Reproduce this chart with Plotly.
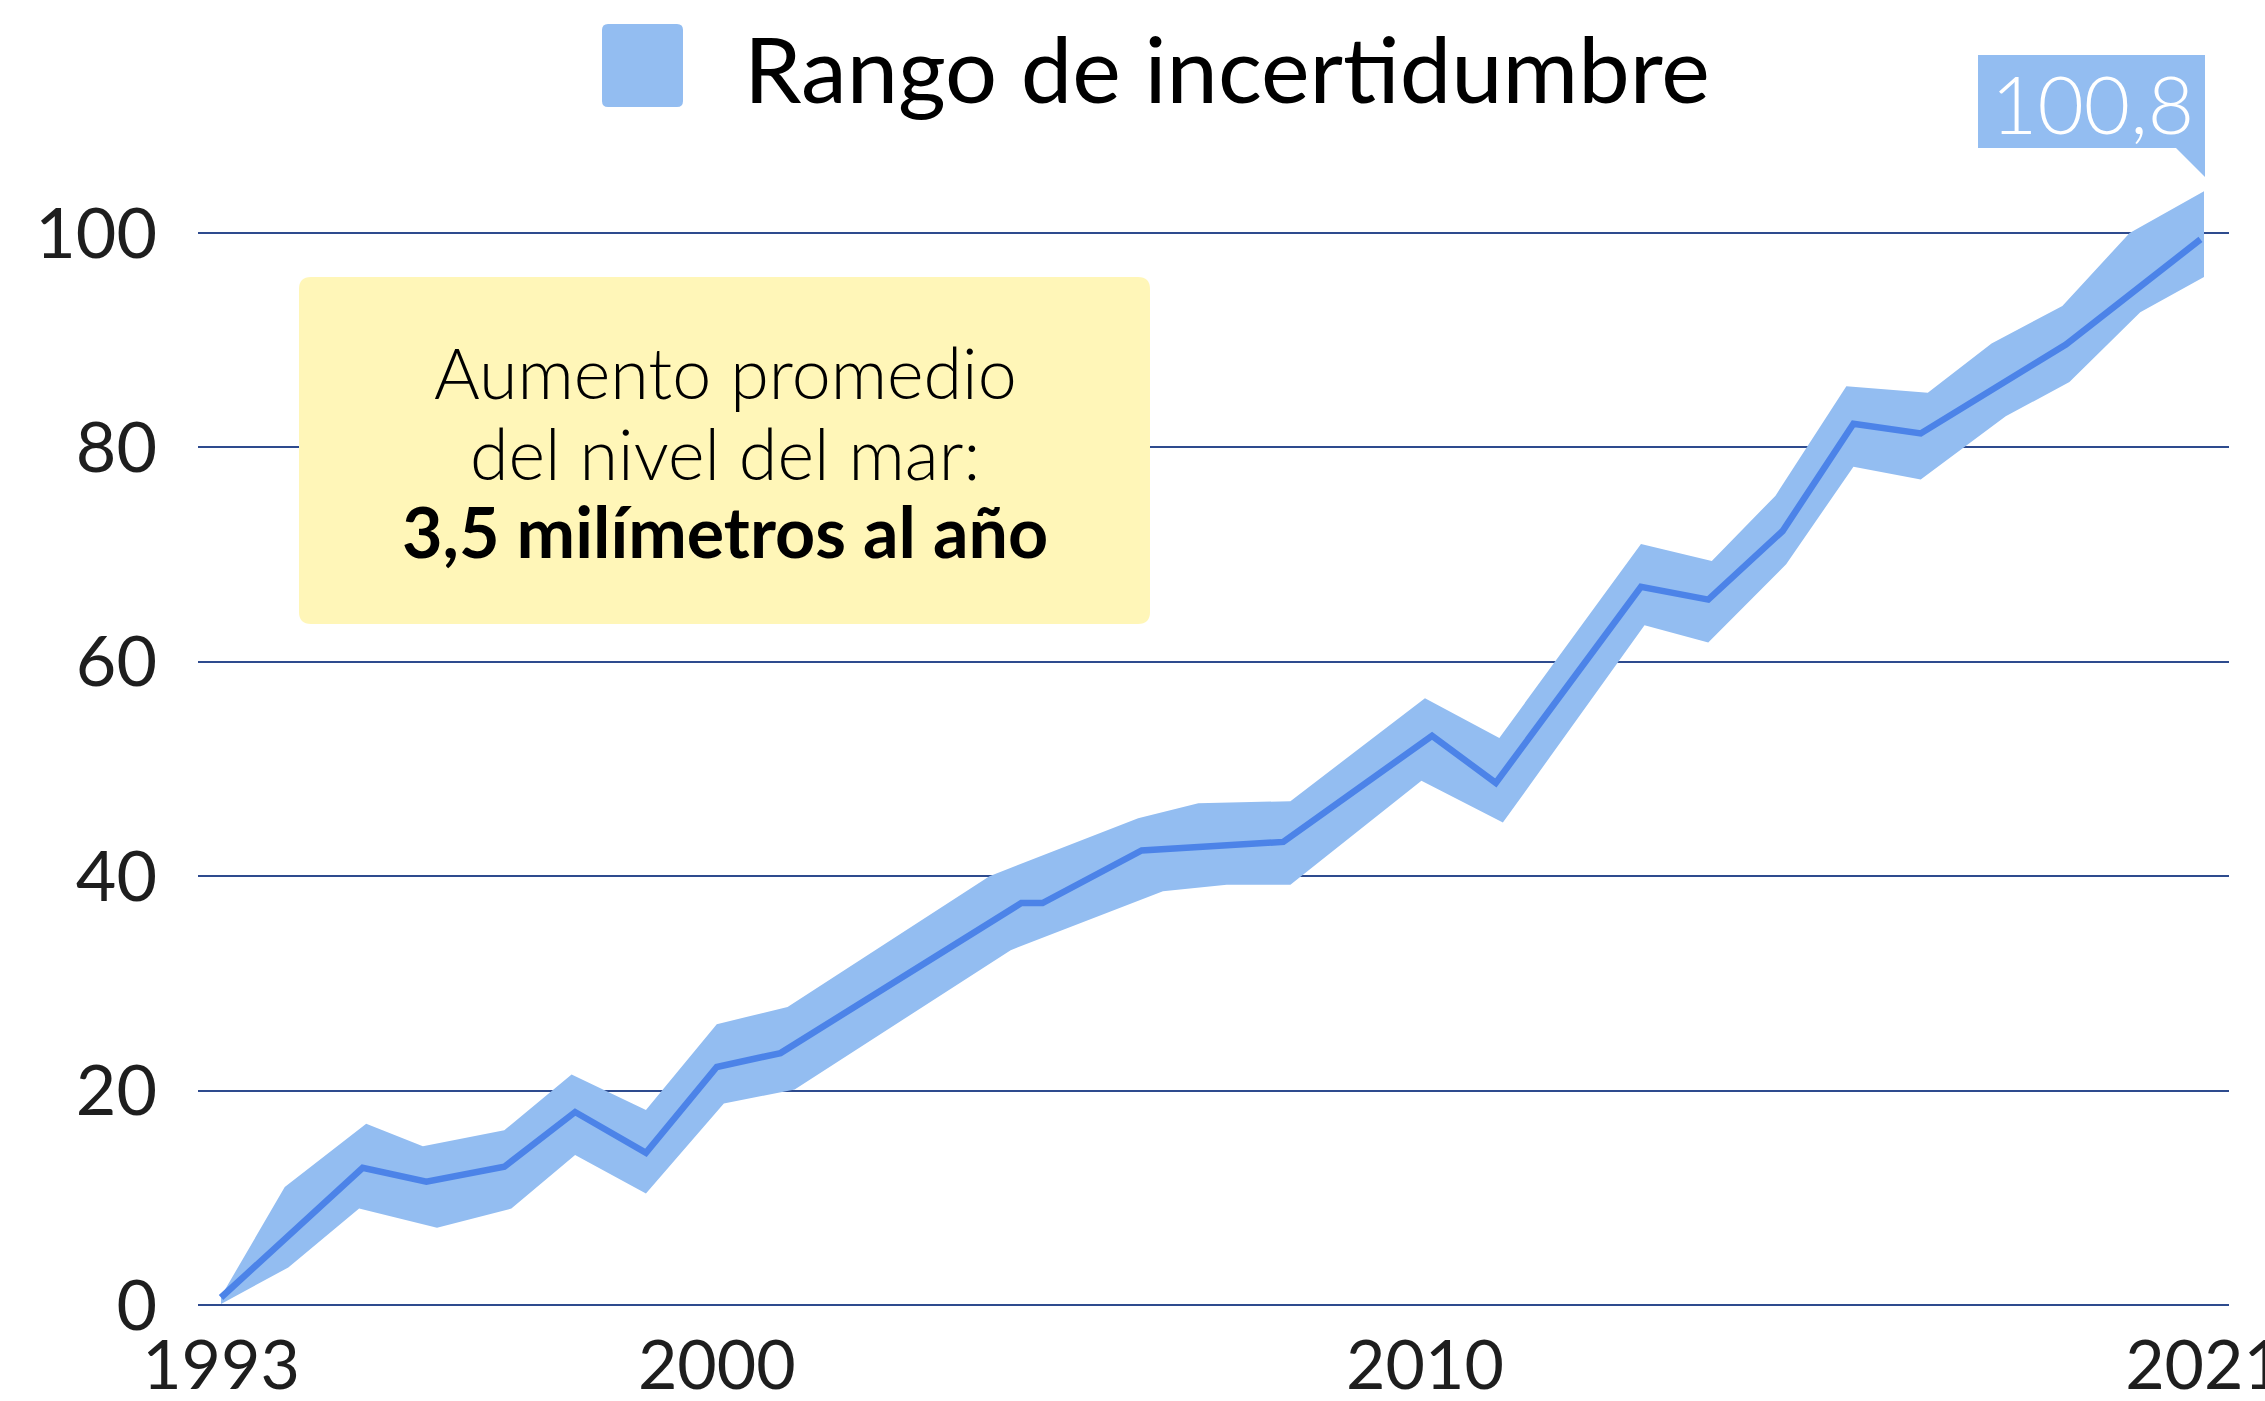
import plotly.graph_objects as go

# ---------------- data ----------------
line_years = [1993.0, 1995.0, 1995.9, 1997.0, 1998.0, 1999.0, 2000.0, 2000.9,
              2004.3, 2004.6, 2006.0, 2008.0, 2010.1, 2011.0, 2013.05, 2014.0,
              2015.05, 2016.05, 2017.0, 2019.05, 2020.95]
line_mm = [0.7, 12.8, 11.5, 12.9, 18.0, 14.2, 22.2, 23.5,
           37.5, 37.5, 42.4, 43.2, 53.1, 48.7, 67.0, 65.8,
           72.2, 82.2, 81.3, 89.6, 99.4]

upper_years = [1993.0, 1993.9, 1995.05, 1995.85, 1997.0, 1997.95, 1999.0, 2000.0,
               2001.0, 2003.85, 2005.95, 2006.8, 2008.1, 2010.0, 2011.05, 2013.05,
               2014.05, 2014.95, 2015.95, 2017.1, 2018.0, 2019.0, 2019.95, 2021.0]
upper_mm = [0.8, 11.0, 16.9, 14.8, 16.3, 21.5, 18.2, 26.2,
            27.8, 40.0, 45.4, 46.8, 47.0, 56.6, 52.9, 71.0,
            69.4, 75.5, 85.7, 85.1, 89.7, 93.2, 100.0, 103.9]

lower_years = [1993.0, 1993.95, 1994.95, 1996.05, 1997.1, 1998.0, 1999.0, 2000.1,
               2001.1, 2004.15, 2006.3, 2007.2, 2008.1, 2009.95, 2011.1, 2013.1,
               2014.0, 2015.1, 2016.05, 2017.0, 2018.2, 2019.1, 2020.1, 2021.0]
lower_mm = [0.1, 3.5, 9.0, 7.2, 9.0, 14.0, 10.4, 18.8,
            20.1, 33.1, 38.6, 39.2, 39.2, 48.9, 45.0, 63.4,
            61.8, 69.1, 78.2, 77.0, 82.9, 86.1, 92.6, 95.9]

x_tick_vals = [1993, 2000, 2010, 2021]
x_tick_text = ["1993", "2000", "2010", "2021"]
y_tick_vals = [0, 20, 40, 60, 80, 100]
y_tick_text = ["0", "20", "40", "60", "80", "100"]

legend_label = "Rango de incertidumbre"
last_value_label = "100,8"
note_lines = ["Aumento promedio", "del nivel del mar:", "3,5 milímetros al año"]

# ---------------- styling ----------------
BAND = "#93BDF1"
LINE = "#4C83E8"
GRID = "#2E4B8E"
YELLOW = "#FFF6B8"
TICK_FONT = "Lato, 'Open Sans', sans-serif"
TEXT_FONT = "Lato, 'Noto Sans', sans-serif"

FIG_W, FIG_H = 2265, 1401
L, R, T, B = 198, 2229, 130, 1330
PW, PH = R - L, B - T


def pxx(px):
    return (px - L) / PW


def pxy(py):
    return (B - py) / PH


def rounded_rect(x0, y0, x1, y1, r):
    # pixel coords -> paper path with rounded corners
    a0, a1 = pxx(x0), pxx(x1)
    b0, b1 = pxy(y1), pxy(y0)  # bottom, top in paper
    rx, ry = r / PW, r / PH
    return (f"M{a0+rx},{b0} L{a1-rx},{b0} Q{a1},{b0} {a1},{b0+ry} "
            f"L{a1},{b1-ry} Q{a1},{b1} {a1-rx},{b1} L{a0+rx},{b1} "
            f"Q{a0},{b1} {a0},{b1-ry} L{a0},{b0+ry} Q{a0},{b0} {a0+rx},{b0} Z")


fig = go.Figure()

band_x = upper_years + lower_years[::-1]
band_y = upper_mm + lower_mm[::-1]
fig.add_trace(go.Scatter(x=band_x, y=band_y, mode="lines", fill="toself",
                         fillcolor=BAND, line=dict(width=0, color=BAND),
                         hoverinfo="skip", showlegend=False,
                         name=legend_label))
fig.add_trace(go.Scatter(x=line_years, y=line_mm, mode="lines",
                         line=dict(color=LINE, width=6.5),
                         showlegend=False, name="Nivel del mar"))

shapes = [
    # legend swatch
    dict(type="path", xref="paper", yref="paper",
         path=rounded_rect(602, 24, 683, 107, 6),
         fillcolor=BAND, line=dict(width=0), layer="above"),
    # yellow note box
    dict(type="path", xref="paper", yref="paper",
         path=rounded_rect(299, 277, 1150, 624, 12),
         fillcolor=YELLOW, line=dict(width=0), layer="above"),
    # value label box
    dict(type="rect", xref="paper", yref="paper",
         x0=pxx(1978), x1=pxx(2205), y0=pxy(148), y1=pxy(55),
         fillcolor=BAND, line=dict(width=0), layer="above"),
    # pointer
    dict(type="path", xref="paper", yref="paper",
         path=f"M{pxx(2175)},{pxy(147)} L{pxx(2205)},{pxy(147)} L{pxx(2205)},{pxy(177)} Z",
         fillcolor=BAND, line=dict(width=0), layer="above"),
]

annotations = [
    dict(xref="paper", yref="paper", x=pxx(742), y=pxy(67),
         xanchor="left", yanchor="middle", showarrow=False,
         text=legend_label,
         font=dict(family=TEXT_FONT, size=92, color="#000000")),
    dict(xref="paper", yref="paper", x=pxx(2092), y=pxy(103),
         xanchor="center", yanchor="middle", showarrow=False,
         text=last_value_label,
         font=dict(family=TEXT_FONT, size=80, color="#FFFFFF", weight=300)),
    dict(xref="paper", yref="paper", x=pxx(725), y=pxy(372),
         xanchor="center", yanchor="middle", showarrow=False,
         text=note_lines[0],
         font=dict(family=TEXT_FONT, size=70, color="#000000", weight=300)),
    dict(xref="paper", yref="paper", x=pxx(725), y=pxy(453),
         xanchor="center", yanchor="middle", showarrow=False,
         text=note_lines[1],
         font=dict(family=TEXT_FONT, size=70, color="#000000", weight=300)),
    dict(xref="paper", yref="paper", x=pxx(725), y=pxy(531),
         xanchor="center", yanchor="middle", showarrow=False,
         text=f"<b>{note_lines[2]}</b>",
         font=dict(family=TEXT_FONT, size=70, color="#000000")),
]

fig.update_layout(
    width=FIG_W, height=FIG_H,
    margin=dict(l=L, r=FIG_W - R, t=T, b=FIG_H - B, pad=0, autoexpand=False),
    paper_bgcolor="white", plot_bgcolor="white",
    showlegend=False,
    shapes=shapes, annotations=annotations,
    xaxis=dict(range=[1992.675, 2021.353], tickmode="array",
               tickvals=x_tick_vals, ticktext=x_tick_text,
               showgrid=False, zeroline=False, showline=False, ticks="",
               automargin=False, ticklabeloverflow="allow",
               ticklabelstandoff=-10,
               tickfont=dict(family=TICK_FONT, size=68, color="#1E1E1E")),
    yaxis=dict(range=[-2.332, 109.608], tickmode="array",
               tickvals=y_tick_vals, ticktext=y_tick_text,
               showgrid=True, gridcolor=GRID, gridwidth=2,
               zeroline=False, showline=False, ticks="",
               automargin=False, ticklabeloverflow="allow",
               ticklabelstandoff=40,
               tickfont=dict(family=TICK_FONT, size=70, color="#1E1E1E")),
)

fig.write_html("out.html",
               config={"displayModeBar": False},
               post_script="document.body.style.margin='0';document.body.style.padding='0';document.body.style.overflow='hidden';")
